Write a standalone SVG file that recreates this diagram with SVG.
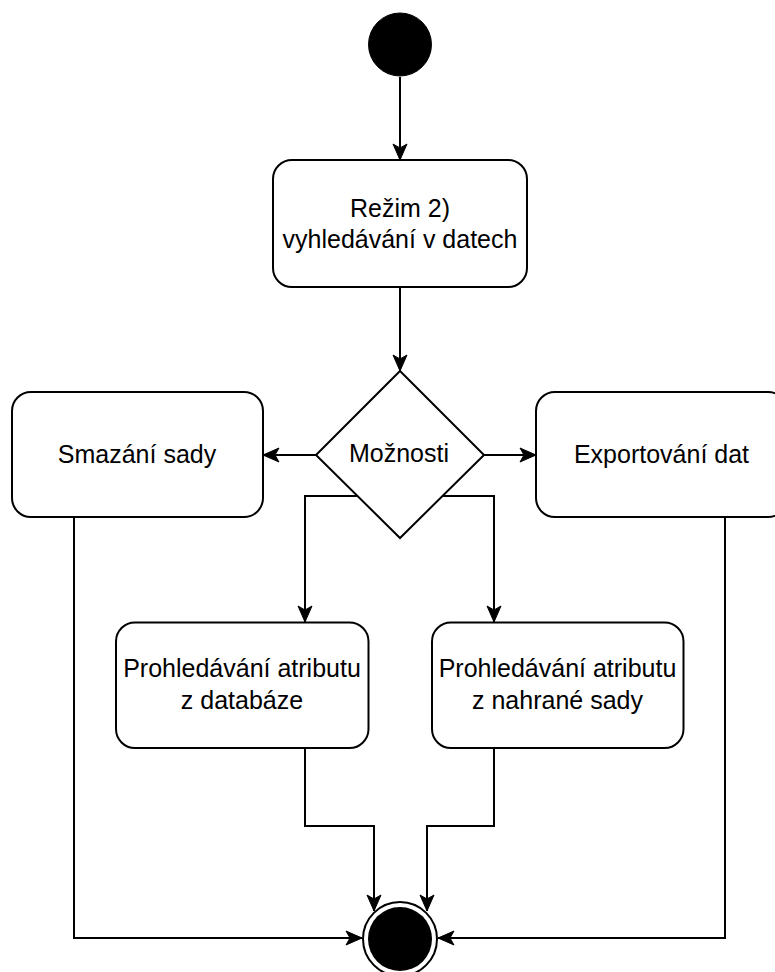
<svg xmlns="http://www.w3.org/2000/svg" width="775" height="972" viewBox="0 0 775 972">
  <defs>
    <style>
      .node { fill: #ffffff; stroke: #000000; stroke-width: 2; }
      .label { font-family: "Liberation Sans", Arial, Helvetica, sans-serif; font-size: 25px; fill: #000000; text-anchor: middle; }
      .edge { fill: none; stroke: #000000; stroke-width: 2; marker-end: url(#arrow); }
    </style>
    <marker id="arrow" markerUnits="userSpaceOnUse" markerWidth="18" markerHeight="16" viewBox="-1 -1 18 16" refX="16" refY="7" orient="auto">
      <path d="M0,0 L16,7 L0,14 L4,7 Z" fill="#000000" stroke="#000000" stroke-width="1" stroke-linejoin="miter"/>
    </marker>
  </defs>

  <!-- connectors -->
  <g id="edges">
    <path class="edge" d="M400,77 V160"/>
    <path class="edge" d="M400,287 V371"/>
    <path class="edge" d="M316,455 H263"/>
    <path class="edge" d="M484,455 H536"/>
    <path class="edge" d="M357,496 H305 V622"/>
    <path class="edge" d="M443,496 H494 V622"/>
    <path class="edge" d="M305,748 V826 H374 V911"/>
    <path class="edge" d="M494,748 V826 H427 V911"/>
    <path class="edge" d="M74,517 V938 H362"/>
    <path class="edge" d="M725,517 V938 H438"/>
  </g>

  <!-- initial node -->
  <g id="start">
    <circle cx="400" cy="44.5" r="31.5" fill="#000000" stroke="#000000" stroke-width="1"/>
  </g>

  <g id="mode2">
    <rect class="node" x="273" y="160" width="254" height="127" rx="19" ry="19"/>
    <text class="label" x="400" y="216.5">Režim 2)</text>
    <text class="label" x="400" y="247.5">vyhledávání v datech</text>
  </g>

  <g id="options">
    <polygon class="node" points="400,371 484,455 400,538 316,455"/>
    <text class="label" x="399" y="462">Možnosti</text>
  </g>

  <g id="delete-set">
    <rect class="node" x="12" y="392" width="251" height="125" rx="19" ry="19"/>
    <text class="label" x="137" y="463">Smazání sady</text>
  </g>

  <g id="export">
    <rect class="node" x="536" y="392" width="251" height="125" rx="19" ry="19"/>
    <text class="label" x="661.5" y="463">Exportování dat</text>
  </g>

  <g id="search-db">
    <rect class="node" x="116" y="622.5" width="252.5" height="125.5" rx="19" ry="19"/>
    <text class="label" x="242" y="677">Prohledávání atributu</text>
    <text class="label" x="242" y="709">z databáze</text>
  </g>

  <g id="search-upload">
    <rect class="node" x="432" y="622.5" width="251.5" height="125.5" rx="19" ry="19"/>
    <text class="label" x="557.5" y="677">Prohledávání atributu</text>
    <text class="label" x="557.5" y="709">z nahrané sady</text>
  </g>

  <!-- final node -->
  <g id="end">
    <circle cx="400" cy="939" r="37" fill="#ffffff" stroke="#000000" stroke-width="2"/>
    <circle cx="400" cy="939" r="32" fill="#000000"/>
  </g>
</svg>
